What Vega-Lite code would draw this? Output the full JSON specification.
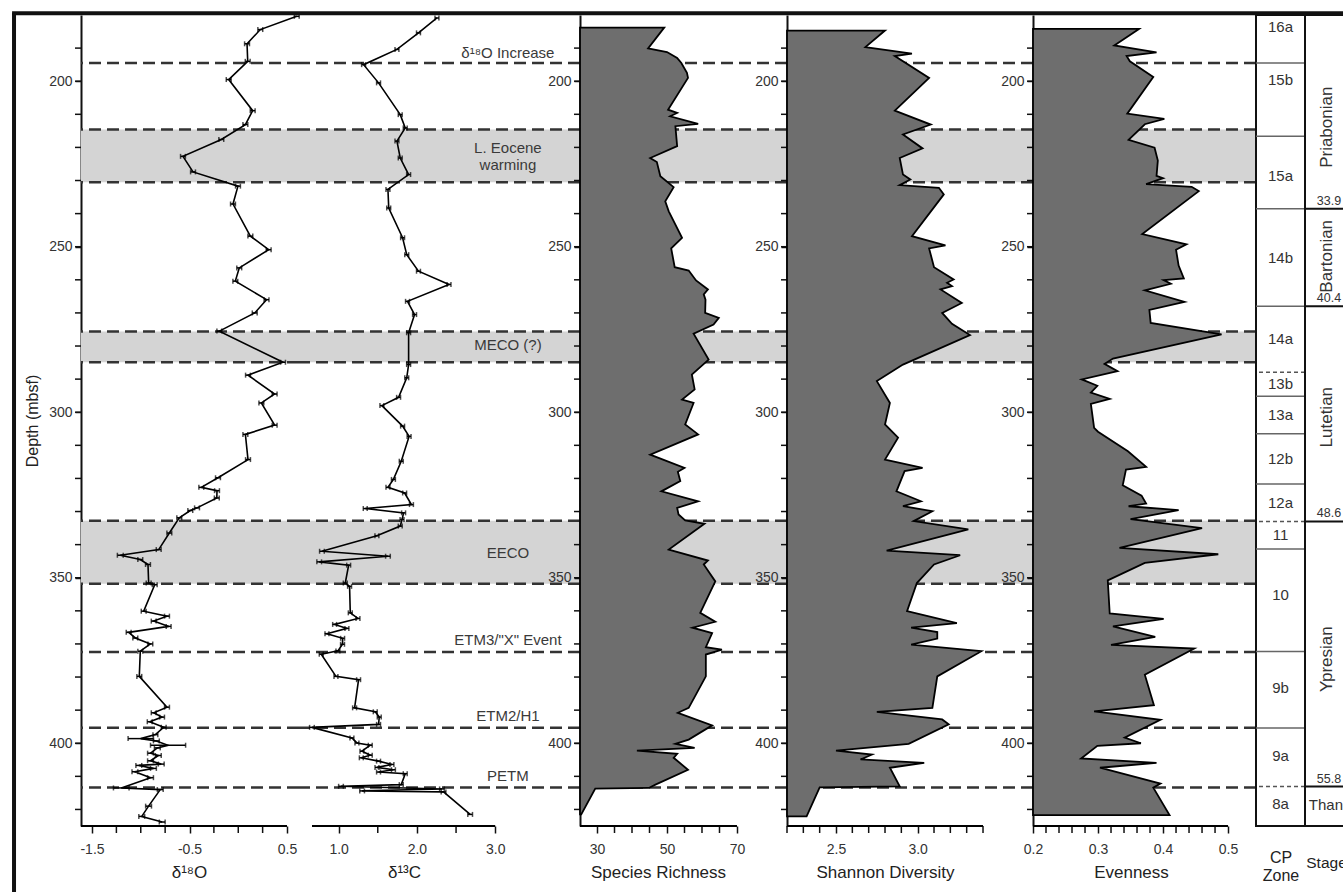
{
  "$schema": "https://vega.github.io/schema/vega-lite/v6.json",
  "background": "white",
  "padding": {"left": 10, "top": 10, "right": 0, "bottom": 0},
  "bounds": "flush",
  "spacing": 0,
  "resolve": {"scale": {"x": "independent", "y": "independent"}},
  "datasets": {
    "bands": [{"depth": 214.6, "end": 230.5}, {"depth": 275.6, "end": 284.9}, {"depth": 332.8, "end": 351.8}],
    "events": [{"depth": 194.5}, {"depth": 214.6}, {"depth": 230.5}, {"depth": 275.6}, {"depth": 284.9}, {"depth": 332.8}, {"depth": 351.8}, {"depth": 372.4}, {"depth": 395.3}, {"depth": 413.4}],
    "depthTicks": [{"depth": 190}, {"depth": 200}, {"depth": 210}, {"depth": 220}, {"depth": 230}, {"depth": 240}, {"depth": 250}, {"depth": 260}, {"depth": 270}, {"depth": 280}, {"depth": 290}, {"depth": 300}, {"depth": 310}, {"depth": 320}, {"depth": 330}, {"depth": 340}, {"depth": 350}, {"depth": 360}, {"depth": 370}, {"depth": 380}, {"depth": 390}, {"depth": 400}, {"depth": 410}, {"depth": 420}],
    "tickD18O": [{"tick": -1.25}, {"tick": -1}, {"tick": -0.75}, {"tick": -0.25}, {"tick": 0}, {"tick": 0.25}],
    "tickD13C": [{"tick": 1.5}, {"tick": 2.5}],
    "tickSpecies": [{"tick": 35}, {"tick": 40}, {"tick": 45}, {"tick": 55}, {"tick": 60}, {"tick": 65}],
    "tickShannon": [{"tick": 2.2}, {"tick": 2.3}, {"tick": 2.4}, {"tick": 2.6}, {"tick": 2.7}, {"tick": 2.8}, {"tick": 2.9}, {"tick": 3.1}, {"tick": 3.2}, {"tick": 3.3}, {"tick": 3.4}],
    "tickEvenness": [{"tick": 0.22}, {"tick": 0.24}, {"tick": 0.26}, {"tick": 0.28}, {"tick": 0.32}, {"tick": 0.34}, {"tick": 0.36}, {"tick": 0.38}, {"tick": 0.42}, {"tick": 0.44}, {"tick": 0.46}, {"tick": 0.48}],
    "eventLabels": [
      {"label": "δ¹⁸O Increase", "depth": 191.6},
      {"label": "L. Eocene\nwarming", "depth": 220.1},
      {"label": "MECO (?)", "depth": 279.8},
      {"label": "EECO", "depth": 342.6},
      {"label": "ETM3/\"X\" Event", "depth": 368.7},
      {"label": "ETM2/H1", "depth": 391.9},
      {"label": "PETM", "depth": 410.0}
    ],
    "d18O": [
      {"depth": 180.4, "value": 0.60, "err": 0.025}, {"depth": 184.4, "value": 0.226, "err": 0.025}, {"depth": 188.7, "value": 0.09, "err": 0.025}, {"depth": 194.0, "value": 0.097, "err": 0.025}, {"depth": 199.5, "value": -0.098, "err": 0.025}, {"depth": 208.9, "value": 0.148, "err": 0.025}, {"depth": 213.1, "value": 0.073, "err": 0.025}, {"depth": 217.6, "value": -0.174, "err": 0.025}, {"depth": 222.7, "value": -0.567, "err": 0.025}, {"depth": 227.4, "value": -0.464, "err": 0.025}, {"depth": 231.7, "value": -0.003, "err": 0.025}, {"depth": 237.1, "value": -0.054, "err": 0.025}, {"depth": 246.8, "value": 0.124, "err": 0.025}, {"depth": 250.9, "value": 0.312, "err": 0.025}, {"depth": 256.4, "value": 0.01, "err": 0.025}, {"depth": 260.4, "value": -0.03, "err": 0.025}, {"depth": 266.0, "value": 0.29, "err": 0.025}, {"depth": 270.0, "value": 0.169, "err": 0.025}, {"depth": 275.5, "value": -0.194, "err": 0.025}, {"depth": 284.9, "value": 0.459, "err": 0.025}, {"depth": 288.8, "value": 0.10, "err": 0.025}, {"depth": 294.5, "value": 0.373, "err": 0.025}, {"depth": 297.2, "value": 0.237, "err": 0.025}, {"depth": 303.9, "value": 0.373, "err": 0.025}, {"depth": 306.7, "value": 0.073, "err": 0.025}, {"depth": 314.3, "value": 0.10, "err": 0.025}, {"depth": 319.8, "value": -0.208, "err": 0.025}, {"depth": 322.7, "value": -0.379, "err": 0.025}, {"depth": 323.7, "value": -0.218, "err": 0.025}, {"depth": 325.9, "value": -0.22, "err": 0.025}, {"depth": 328.9, "value": -0.423, "err": 0.025}, {"depth": 329.7, "value": -0.492, "err": 0.025}, {"depth": 331.9, "value": -0.605, "err": 0.025}, {"depth": 336.5, "value": -0.707, "err": 0.025}, {"depth": 341.5, "value": -0.816, "err": 0.025}, {"depth": 343.2, "value": -1.21, "err": 0.03}, {"depth": 344.5, "value": -1.005, "err": 0.025}, {"depth": 346.0, "value": -0.926, "err": 0.025}, {"depth": 351.6, "value": -0.919, "err": 0.025}, {"depth": 352.1, "value": -0.857, "err": 0.025}, {"depth": 360.1, "value": -0.97, "err": 0.025}, {"depth": 361.6, "value": -0.731, "err": 0.025}, {"depth": 363.1, "value": -0.867, "err": 0.025}, {"depth": 364.7, "value": -0.714, "err": 0.025}, {"depth": 366.5, "value": -1.124, "err": 0.025}, {"depth": 368.2, "value": -1.056, "err": 0.025}, {"depth": 370.0, "value": -0.902, "err": 0.025}, {"depth": 372.2, "value": -1.005, "err": 0.025}, {"depth": 379.8, "value": -1.015, "err": 0.025}, {"depth": 389.1, "value": -0.731, "err": 0.025}, {"depth": 390.8, "value": -0.867, "err": 0.025}, {"depth": 392.1, "value": -0.782, "err": 0.025}, {"depth": 393.5, "value": -0.908, "err": 0.025}, {"depth": 395.2, "value": -0.765, "err": 0.025}, {"depth": 397.4, "value": -0.85, "err": 0.025}, {"depth": 398.6, "value": -1.0, "err": 0.13}, {"depth": 399.3, "value": -0.84, "err": 0.03}, {"depth": 400.6, "value": -0.72, "err": 0.18}, {"depth": 401.4, "value": -0.83, "err": 0.03}, {"depth": 403.0, "value": -0.90, "err": 0.03}, {"depth": 403.7, "value": -0.82, "err": 0.03}, {"depth": 405.3, "value": -0.90, "err": 0.03}, {"depth": 406.3, "value": -0.79, "err": 0.03}, {"depth": 406.7, "value": -1.02, "err": 0.03}, {"depth": 407.6, "value": -0.87, "err": 0.03}, {"depth": 408.6, "value": -1.06, "err": 0.03}, {"depth": 410.4, "value": -0.90, "err": 0.03}, {"depth": 413.5, "value": -1.2, "err": 0.08}, {"depth": 414.0, "value": -0.80, "err": 0.03}, {"depth": 419.0, "value": -0.92, "err": 0.03}, {"depth": 422.1, "value": -0.99, "err": 0.03}, {"depth": 423.8, "value": -0.78, "err": 0.03}
    ],
    "d13C": [
      {"depth": 180.9, "value": 2.256, "err": 0.025}, {"depth": 185.4, "value": 2.02, "err": 0.025}, {"depth": 190.4, "value": 1.745, "err": 0.025}, {"depth": 195.0, "value": 1.319, "err": 0.025}, {"depth": 200.5, "value": 1.51, "err": 0.025}, {"depth": 210.1, "value": 1.787, "err": 0.025}, {"depth": 214.1, "value": 1.851, "err": 0.025}, {"depth": 218.1, "value": 1.745, "err": 0.025}, {"depth": 223.2, "value": 1.787, "err": 0.025}, {"depth": 228.2, "value": 1.894, "err": 0.025}, {"depth": 232.7, "value": 1.63, "err": 0.025}, {"depth": 238.3, "value": 1.64, "err": 0.025}, {"depth": 247.3, "value": 1.817, "err": 0.025}, {"depth": 252.4, "value": 1.87, "err": 0.025}, {"depth": 257.4, "value": 2.02, "err": 0.025}, {"depth": 261.4, "value": 2.41, "err": 0.025}, {"depth": 266.5, "value": 1.88, "err": 0.025}, {"depth": 270.5, "value": 1.97, "err": 0.025}, {"depth": 276.0, "value": 1.894, "err": 0.025}, {"depth": 285.6, "value": 1.894, "err": 0.025}, {"depth": 289.6, "value": 1.87, "err": 0.025}, {"depth": 295.5, "value": 1.766, "err": 0.025}, {"depth": 298.0, "value": 1.553, "err": 0.025}, {"depth": 304.2, "value": 1.817, "err": 0.025}, {"depth": 307.3, "value": 1.90, "err": 0.025}, {"depth": 314.8, "value": 1.80, "err": 0.025}, {"depth": 320.3, "value": 1.70, "err": 0.025}, {"depth": 322.7, "value": 1.63, "err": 0.025}, {"depth": 324.4, "value": 1.843, "err": 0.025}, {"depth": 327.9, "value": 1.93, "err": 0.025}, {"depth": 329.1, "value": 1.34, "err": 0.025}, {"depth": 330.4, "value": 1.83, "err": 0.025}, {"depth": 332.4, "value": 1.81, "err": 0.025}, {"depth": 334.4, "value": 1.787, "err": 0.025}, {"depth": 337.3, "value": 1.489, "err": 0.025}, {"depth": 342.0, "value": 0.787, "err": 0.03}, {"depth": 343.5, "value": 1.63, "err": 0.03}, {"depth": 345.2, "value": 0.752, "err": 0.03}, {"depth": 346.2, "value": 1.128, "err": 0.025}, {"depth": 351.6, "value": 1.085, "err": 0.025}, {"depth": 352.6, "value": 1.14, "err": 0.025}, {"depth": 360.6, "value": 1.149, "err": 0.025}, {"depth": 362.3, "value": 1.247, "err": 0.025}, {"depth": 364.1, "value": 0.949, "err": 0.025}, {"depth": 365.3, "value": 1.106, "err": 0.025}, {"depth": 366.9, "value": 0.851, "err": 0.025}, {"depth": 368.3, "value": 1.051, "err": 0.025}, {"depth": 370.1, "value": 1.05, "err": 0.025}, {"depth": 372.1, "value": 0.991, "err": 0.025}, {"depth": 373.1, "value": 0.778, "err": 0.025}, {"depth": 379.8, "value": 0.966, "err": 0.025}, {"depth": 380.8, "value": 1.255, "err": 0.025}, {"depth": 389.3, "value": 1.204, "err": 0.025}, {"depth": 390.5, "value": 1.468, "err": 0.025}, {"depth": 392.1, "value": 1.519, "err": 0.025}, {"depth": 394.3, "value": 1.51, "err": 0.025}, {"depth": 395.2, "value": 0.659, "err": 0.03}, {"depth": 398.4, "value": 1.17, "err": 0.025}, {"depth": 399.9, "value": 1.234, "err": 0.025}, {"depth": 400.6, "value": 1.404, "err": 0.025}, {"depth": 402.4, "value": 1.298, "err": 0.025}, {"depth": 403.6, "value": 1.404, "err": 0.025}, {"depth": 404.4, "value": 1.29, "err": 0.025}, {"depth": 405.4, "value": 1.51, "err": 0.025}, {"depth": 406.4, "value": 1.681, "err": 0.025}, {"depth": 407.3, "value": 1.49, "err": 0.025}, {"depth": 408.0, "value": 1.70, "err": 0.025}, {"depth": 408.7, "value": 1.51, "err": 0.025}, {"depth": 409.2, "value": 1.851, "err": 0.025}, {"depth": 412.5, "value": 1.80, "err": 0.025}, {"depth": 413.0, "value": 1.03, "err": 0.03}, {"depth": 413.8, "value": 2.32, "err": 0.03}, {"depth": 414.4, "value": 1.30, "err": 0.03}, {"depth": 414.7, "value": 2.34, "err": 0.03}, {"depth": 421.5, "value": 2.68, "err": 0.03}
    ],
    "species": [
      {"depth": 183.8, "value": 49.2}, {"depth": 190.1, "value": 44.6}, {"depth": 191.2, "value": 50.0}, {"depth": 193.0, "value": 52.9}, {"depth": 194.5, "value": 54.1}, {"depth": 197.5, "value": 55.7}, {"depth": 199.0, "value": 56.0}, {"depth": 208.6, "value": 50.3}, {"depth": 209.6, "value": 52.9}, {"depth": 210.6, "value": 50.9}, {"depth": 212.9, "value": 58.9}, {"depth": 213.6, "value": 52.4}, {"depth": 219.6, "value": 52.9}, {"depth": 223.2, "value": 45.2}, {"depth": 224.4, "value": 47.1}, {"depth": 228.7, "value": 48.1}, {"depth": 232.0, "value": 51.9}, {"depth": 236.3, "value": 49.5}, {"depth": 239.3, "value": 50.5}, {"depth": 247.3, "value": 54.3}, {"depth": 250.5, "value": 51.2}, {"depth": 256.2, "value": 52.2}, {"depth": 257.2, "value": 56.2}, {"depth": 260.2, "value": 58.3}, {"depth": 262.9, "value": 61.7}, {"depth": 264.4, "value": 60.5}, {"depth": 266.0, "value": 61.0}, {"depth": 270.0, "value": 60.9}, {"depth": 271.5, "value": 64.8}, {"depth": 273.5, "value": 63.3}, {"depth": 276.3, "value": 57.6}, {"depth": 284.1, "value": 61.9}, {"depth": 288.6, "value": 57.1}, {"depth": 293.1, "value": 57.9}, {"depth": 296.2, "value": 54.3}, {"depth": 297.2, "value": 57.6}, {"depth": 303.7, "value": 55.2}, {"depth": 306.7, "value": 58.9}, {"depth": 312.8, "value": 45.2}, {"depth": 316.8, "value": 55.0}, {"depth": 318.0, "value": 53.1}, {"depth": 320.8, "value": 53.8}, {"depth": 323.9, "value": 48.4}, {"depth": 326.9, "value": 58.9}, {"depth": 328.9, "value": 52.9}, {"depth": 330.9, "value": 53.3}, {"depth": 332.7, "value": 55.2}, {"depth": 333.7, "value": 60.7}, {"depth": 341.5, "value": 50.5}, {"depth": 344.8, "value": 61.7}, {"depth": 346.0, "value": 60.5}, {"depth": 351.1, "value": 63.8}, {"depth": 360.6, "value": 59.5}, {"depth": 363.3, "value": 63.8}, {"depth": 365.1, "value": 57.3}, {"depth": 366.7, "value": 62.9}, {"depth": 371.0, "value": 61.1}, {"depth": 371.7, "value": 65.7}, {"depth": 373.2, "value": 61.1}, {"depth": 379.8, "value": 61.1}, {"depth": 389.3, "value": 56.2}, {"depth": 390.8, "value": 53.1}, {"depth": 394.6, "value": 62.9}, {"depth": 398.9, "value": 56.2}, {"depth": 400.2, "value": 52.4}, {"depth": 401.4, "value": 57.9}, {"depth": 402.2, "value": 41.4}, {"depth": 403.2, "value": 52.9}, {"depth": 404.4, "value": 51.9}, {"depth": 408.0, "value": 56.0}, {"depth": 412.5, "value": 46.7}, {"depth": 413.5, "value": 44.8}, {"depth": 413.7, "value": 29.5}, {"depth": 421.5, "value": 25.5}
    ],
    "shannon": [
      {"depth": 184.7, "value": 2.80}, {"depth": 189.7, "value": 2.68}, {"depth": 191.7, "value": 2.965}, {"depth": 192.4, "value": 2.86}, {"depth": 199.0, "value": 3.07}, {"depth": 208.9, "value": 2.86}, {"depth": 213.1, "value": 3.08}, {"depth": 216.1, "value": 2.91}, {"depth": 220.3, "value": 3.03}, {"depth": 223.2, "value": 2.89}, {"depth": 228.2, "value": 2.91}, {"depth": 229.7, "value": 2.955}, {"depth": 231.4, "value": 2.89}, {"depth": 232.2, "value": 3.13}, {"depth": 234.2, "value": 3.16}, {"depth": 246.8, "value": 2.965}, {"depth": 249.6, "value": 3.17}, {"depth": 250.5, "value": 3.07}, {"depth": 256.2, "value": 3.10}, {"depth": 259.9, "value": 3.22}, {"depth": 260.9, "value": 3.18}, {"depth": 261.9, "value": 3.21}, {"depth": 262.9, "value": 3.14}, {"depth": 267.0, "value": 3.27}, {"depth": 270.0, "value": 3.15}, {"depth": 273.3, "value": 3.21}, {"depth": 276.7, "value": 3.32}, {"depth": 285.6, "value": 2.91}, {"depth": 290.6, "value": 2.75}, {"depth": 297.2, "value": 2.83}, {"depth": 303.7, "value": 2.80}, {"depth": 307.7, "value": 2.88}, {"depth": 314.3, "value": 2.80}, {"depth": 316.8, "value": 3.03}, {"depth": 317.8, "value": 2.92}, {"depth": 323.9, "value": 2.87}, {"depth": 326.9, "value": 3.02}, {"depth": 328.4, "value": 2.91}, {"depth": 329.9, "value": 3.09}, {"depth": 332.9, "value": 2.975}, {"depth": 335.4, "value": 3.31}, {"depth": 341.8, "value": 2.81}, {"depth": 343.2, "value": 3.26}, {"depth": 346.0, "value": 3.10}, {"depth": 351.6, "value": 2.995}, {"depth": 360.1, "value": 2.935}, {"depth": 363.7, "value": 3.24}, {"depth": 365.1, "value": 2.96}, {"depth": 366.4, "value": 3.12}, {"depth": 368.4, "value": 3.12}, {"depth": 370.2, "value": 2.96}, {"depth": 371.7, "value": 3.29}, {"depth": 372.2, "value": 3.39}, {"depth": 379.8, "value": 3.12}, {"depth": 389.3, "value": 3.09}, {"depth": 390.5, "value": 2.75}, {"depth": 392.8, "value": 3.15}, {"depth": 394.3, "value": 3.19}, {"depth": 400.2, "value": 2.945}, {"depth": 402.2, "value": 2.50}, {"depth": 403.4, "value": 2.72}, {"depth": 404.9, "value": 2.65}, {"depth": 405.9, "value": 3.04}, {"depth": 407.4, "value": 2.83}, {"depth": 413.0, "value": 2.89}, {"depth": 413.3, "value": 2.40}, {"depth": 422.1, "value": 2.32}
    ],
    "evenness": [
      {"depth": 184.2, "value": 0.363}, {"depth": 189.2, "value": 0.325}, {"depth": 191.3, "value": 0.390}, {"depth": 192.4, "value": 0.344}, {"depth": 194.0, "value": 0.349}, {"depth": 198.7, "value": 0.385}, {"depth": 209.8, "value": 0.345}, {"depth": 211.4, "value": 0.402}, {"depth": 213.0, "value": 0.372}, {"depth": 217.7, "value": 0.347}, {"depth": 220.1, "value": 0.387}, {"depth": 224.0, "value": 0.392}, {"depth": 228.6, "value": 0.390}, {"depth": 229.3, "value": 0.400}, {"depth": 231.1, "value": 0.374}, {"depth": 231.9, "value": 0.444}, {"depth": 233.2, "value": 0.455}, {"depth": 246.2, "value": 0.368}, {"depth": 249.3, "value": 0.436}, {"depth": 250.9, "value": 0.420}, {"depth": 255.7, "value": 0.424}, {"depth": 259.6, "value": 0.432}, {"depth": 260.1, "value": 0.401}, {"depth": 261.2, "value": 0.412}, {"depth": 263.2, "value": 0.372}, {"depth": 266.7, "value": 0.433}, {"depth": 269.1, "value": 0.379}, {"depth": 273.0, "value": 0.381}, {"depth": 276.5, "value": 0.490}, {"depth": 283.8, "value": 0.323}, {"depth": 285.4, "value": 0.310}, {"depth": 287.6, "value": 0.330}, {"depth": 290.1, "value": 0.275}, {"depth": 292.0, "value": 0.299}, {"depth": 294.1, "value": 0.289}, {"depth": 296.0, "value": 0.318}, {"depth": 297.5, "value": 0.289}, {"depth": 304.7, "value": 0.294}, {"depth": 305.9, "value": 0.300}, {"depth": 311.8, "value": 0.346}, {"depth": 316.5, "value": 0.374}, {"depth": 317.3, "value": 0.343}, {"depth": 322.1, "value": 0.338}, {"depth": 325.2, "value": 0.367}, {"depth": 327.6, "value": 0.374}, {"depth": 328.4, "value": 0.347}, {"depth": 329.6, "value": 0.424}, {"depth": 332.3, "value": 0.350}, {"depth": 335.0, "value": 0.460}, {"depth": 341.0, "value": 0.333}, {"depth": 342.9, "value": 0.485}, {"depth": 345.5, "value": 0.372}, {"depth": 350.8, "value": 0.315}, {"depth": 360.8, "value": 0.318}, {"depth": 362.4, "value": 0.401}, {"depth": 364.7, "value": 0.323}, {"depth": 367.9, "value": 0.388}, {"depth": 370.3, "value": 0.320}, {"depth": 371.4, "value": 0.448}, {"depth": 379.3, "value": 0.372}, {"depth": 388.5, "value": 0.386}, {"depth": 390.4, "value": 0.294}, {"depth": 392.9, "value": 0.396}, {"depth": 398.3, "value": 0.341}, {"depth": 400.0, "value": 0.366}, {"depth": 400.8, "value": 0.299}, {"depth": 404.6, "value": 0.274}, {"depth": 405.9, "value": 0.390}, {"depth": 407.4, "value": 0.303}, {"depth": 412.2, "value": 0.396}, {"depth": 413.4, "value": 0.385}, {"depth": 421.7, "value": 0.410}
    ],
    "zoneLines": [{"depth": 194.5}, {"depth": 216.6}, {"depth": 238.5}, {"depth": 268.0}, {"depth": 295.2}, {"depth": 306.5}, {"depth": 321.7}, {"depth": 341.3}, {"depth": 372.3}, {"depth": 395.4}],
    "zoneDashed": [{"depth": 287.9}, {"depth": 333.0}, {"depth": 413.1}],
    "zoneLabels": [
      {"zone": "16a", "depth": 183.6}, {"zone": "15b", "depth": 199.5}, {"zone": "15a", "depth": 228.7}, {"zone": "14b", "depth": 253.4}, {"zone": "14a", "depth": 278.0}, {"zone": "13b", "depth": 291.6}, {"zone": "13a", "depth": 300.8}, {"zone": "12b", "depth": 314.0}, {"zone": "12a", "depth": 327.4}, {"zone": "11", "depth": 337.0}, {"zone": "10", "depth": 355.1}, {"zone": "9b", "depth": 383.3}, {"zone": "9a", "depth": 403.9}, {"zone": "8a", "depth": 418.5}
    ],
    "stageLines": [{"age": "33.9", "depth": 238.5}, {"age": "40.4", "depth": 268.0}, {"age": "48.6", "depth": 333.0}, {"age": "55.8", "depth": 413.1}],
    "stageNames": [{"name": "Priabonian", "depth": 213.9}, {"name": "Bartonian", "depth": 252.9}, {"name": "Lutetian", "depth": 301.5}, {"name": "Ypresian", "depth": 374.6}]
  },
  "hconcat": [
    {
      "width": 218, "height": 811,
      "layer": [
        {"data": {"name": "bands"}, "mark": {"type": "rect", "color": "#d4d4d4"},
         "encoding": {"y": {"field": "depth", "type": "quantitative", "title": "Depth (mbsf)", "scale": {"domain": [180, 425], "reverse": true, "nice": false, "zero": false},
           "axis": {"title": "Depth (mbsf)", "titleFontSize": 16, "values": [200, 250, 300, 350, 400], "labelExpr": "'' + datum.value", "labelOverlap": false, "tickSize": 6, "labelPadding": 3, "titlePadding": 8}},
           "y2": {"field": "end"}}},
        {"data": {"name": "events"}, "mark": {"type": "rule", "color": "#333333", "strokeWidth": 2.5, "strokeDash": [12, 6]},
         "encoding": {"y": {"field": "depth", "type": "quantitative", "title": "Depth (mbsf)", "scale": {"domain": [180, 425], "reverse": true, "nice": false, "zero": false}}}},
        {"data": {"name": "depthTicks"}, "mark": {"type": "rule", "color": "#111111", "strokeWidth": 1.5},
         "encoding": {"y": {"field": "depth", "type": "quantitative", "title": "Depth (mbsf)", "scale": {"domain": [180, 425], "reverse": true, "nice": false, "zero": false}},
           "x": {"datum": -1.6745, "title": "δ¹⁸O", "scale": {"domain": [-1.613, 0.623], "nice": false, "zero": false}}, "x2": {"datum": -1.613}}},
        {"data": {"name": "tickD18O"}, "mark": {"type": "rule", "color": "#111111", "strokeWidth": 1.5},
         "encoding": {"x": {"field": "tick", "type": "quantitative", "title": "δ¹⁸O", "scale": {"domain": [-1.613, 0.623], "nice": false, "zero": false}},
           "y": {"datum": 425, "title": "Depth (mbsf)", "scale": {"domain": [180, 425], "reverse": true, "nice": false, "zero": false}}, "y2": {"datum": 427.115}}},
        {"data": {"name": "d18O"}, "mark": {"type": "line", "color": "black", "strokeWidth": 1.6},
         "encoding": {
           "x": {"field": "value", "type": "quantitative", "title": "δ¹⁸O", "scale": {"domain": [-1.613, 0.623], "nice": false, "zero": false},
             "axis": {"title": "δ¹⁸O", "values": [-1.5, -0.5, 0.5], "labelExpr": "'' + datum.value", "labelOverlap": false, "domain": false, "tickSize": 7, "labelPadding": 9, "titlePadding": 8, "titleX": 108}},
           "y": {"field": "depth", "type": "quantitative", "title": "Depth (mbsf)", "scale": {"domain": [180, 425], "reverse": true, "nice": false, "zero": false}},
           "order": {"field": "depth", "type": "quantitative"}}},
        {"data": {"name": "d18O"}, "mark": {"type": "errorbar", "ticks": {"size": 5, "thickness": 1.5}, "thickness": 1.5, "color": "black"},
         "encoding": {
           "x": {"field": "value", "type": "quantitative", "title": "δ¹⁸O", "scale": {"domain": [-1.613, 0.623], "nice": false, "zero": false}},
           "xError": {"field": "err"},
           "y": {"field": "depth", "type": "quantitative", "title": "Depth (mbsf)", "scale": {"domain": [180, 425], "reverse": true, "nice": false, "zero": false}}}},
        {"data": {"values": [{}]}, "mark": {"type": "rule", "color": "black", "strokeWidth": 2},
         "encoding": {"x": {"datum": -1.613, "scale": {"domain": [-1.613, 0.623], "nice": false, "zero": false}}, "x2": {"datum": 0.5},
           "y": {"datum": 425, "scale": {"domain": [180, 425], "reverse": true, "nice": false, "zero": false}}}},
        {"data": {"values": [{}]}, "mark": {"type": "rule", "color": "#111111", "strokeWidth": 4},
         "encoding": {"x": {"datum": -2.32, "scale": {"domain": [-1.613, 0.623], "nice": false, "zero": false}}, "x2": {"datum": 0.623},
           "y": {"datum": 179.46, "scale": {"domain": [180, 425], "reverse": true, "nice": false, "zero": false}}}},
        {"data": {"values": [{}]}, "mark": {"type": "rule", "color": "#111111", "strokeWidth": 4},
         "encoding": {"x": {"datum": -2.30, "scale": {"domain": [-1.613, 0.623], "nice": false, "zero": false}},
           "y": {"datum": 179.4, "scale": {"domain": [180, 425], "reverse": true, "nice": false, "zero": false}}, "y2": {"datum": 445.5}}}
      ]
    },
    {
      "width": 281, "height": 811,
      "layer": [
        {"data": {"name": "bands"}, "mark": {"type": "rect", "color": "#d4d4d4"},
         "encoding": {"y": {"field": "depth", "type": "quantitative", "scale": {"domain": [180, 425], "reverse": true, "nice": false, "zero": false}, "axis": null}, "y2": {"field": "end"}}},
        {"data": {"name": "events"}, "mark": {"type": "rule", "color": "#333333", "strokeWidth": 2.5, "strokeDash": [12, 6]},
         "encoding": {"y": {"field": "depth", "type": "quantitative", "scale": {"domain": [180, 425], "reverse": true, "nice": false, "zero": false}, "axis": null}}},
        {"data": {"name": "eventLabels"}, "mark": {"type": "text", "fontSize": 15, "color": "#3a3a3a", "align": "center", "baseline": "middle", "lineBreak": "\n", "lineHeight": 17},
         "encoding": {"x": {"datum": 3.162, "title": "δ¹³C", "scale": {"domain": [0.494, 4.083], "nice": false, "zero": false}},
           "y": {"field": "depth", "type": "quantitative", "scale": {"domain": [180, 425], "reverse": true, "nice": false, "zero": false}, "axis": null},
           "text": {"field": "label"}}},
        {"data": {"name": "tickD13C"}, "mark": {"type": "rule", "color": "#111111", "strokeWidth": 1.5},
         "encoding": {"x": {"field": "tick", "type": "quantitative", "title": "δ¹³C", "scale": {"domain": [0.494, 4.083], "nice": false, "zero": false}},
           "y": {"datum": 425, "scale": {"domain": [180, 425], "reverse": true, "nice": false, "zero": false}, "axis": null}, "y2": {"datum": 427.115}}},
        {"data": {"name": "d13C"}, "mark": {"type": "line", "color": "black", "strokeWidth": 1.6},
         "encoding": {
           "x": {"field": "value", "type": "quantitative", "title": "δ¹³C", "scale": {"domain": [0.494, 4.083], "nice": false, "zero": false},
             "axis": {"title": "δ¹³C", "values": [1, 2, 3], "format": ".1f", "labelOverlap": false, "domain": false, "tickSize": 7, "labelPadding": 9, "titlePadding": 8, "titleX": 105}},
           "y": {"field": "depth", "type": "quantitative", "scale": {"domain": [180, 425], "reverse": true, "nice": false, "zero": false}, "axis": null},
           "order": {"field": "depth", "type": "quantitative"}}},
        {"data": {"name": "d13C"}, "mark": {"type": "errorbar", "ticks": {"size": 5, "thickness": 1.5}, "thickness": 1.5, "color": "black"},
         "encoding": {
           "x": {"field": "value", "type": "quantitative", "title": "δ¹³C", "scale": {"domain": [0.494, 4.083], "nice": false, "zero": false}},
           "xError": {"field": "err"},
           "y": {"field": "depth", "type": "quantitative", "scale": {"domain": [180, 425], "reverse": true, "nice": false, "zero": false}, "axis": null}}},
        {"data": {"values": [{}]}, "mark": {"type": "rule", "color": "black", "strokeWidth": 2},
         "encoding": {"x": {"datum": 0.66, "title": "δ¹³C", "scale": {"domain": [0.494, 4.083], "nice": false, "zero": false}}, "x2": {"datum": 3.0},
           "y": {"datum": 425, "scale": {"domain": [180, 425], "reverse": true, "nice": false, "zero": false}, "axis": null}}},
        {"data": {"values": [{}]}, "mark": {"type": "rule", "color": "#111111", "strokeWidth": 4},
         "encoding": {"y": {"datum": 179.46, "scale": {"domain": [180, 425], "reverse": true, "nice": false, "zero": false}, "axis": null}}}
      ]
    },
    {
      "width": 207, "height": 811,
      "layer": [
        {"data": {"name": "bands"}, "mark": {"type": "rect", "color": "#d4d4d4"},
         "encoding": {"y": {"field": "depth", "type": "quantitative", "scale": {"domain": [180, 425], "reverse": true, "nice": false, "zero": false},
           "axis": {"title": null, "values": [200, 250, 300, 350, 400], "labelExpr": "'' + datum.value", "labelOverlap": false, "tickSize": 6, "labelPadding": 3}},
           "y2": {"field": "end"}}},
        {"data": {"name": "events"}, "mark": {"type": "rule", "color": "#333333", "strokeWidth": 2.5, "strokeDash": [12, 6]},
         "encoding": {"y": {"field": "depth", "type": "quantitative", "scale": {"domain": [180, 425], "reverse": true, "nice": false, "zero": false}}}},
        {"data": {"name": "depthTicks"}, "mark": {"type": "rule", "color": "#111111", "strokeWidth": 1.5},
         "encoding": {"y": {"field": "depth", "type": "quantitative", "scale": {"domain": [180, 425], "reverse": true, "nice": false, "zero": false}},
           "x": {"datum": 23.43, "title": "Species Richness", "scale": {"domain": [25.14, 84.29], "nice": false, "zero": false}}, "x2": {"datum": 25.14}}},
        {"data": {"name": "tickSpecies"}, "mark": {"type": "rule", "color": "#111111", "strokeWidth": 1.5},
         "encoding": {"x": {"field": "tick", "type": "quantitative", "title": "Species Richness", "scale": {"domain": [25.14, 84.29], "nice": false, "zero": false}},
           "y": {"datum": 425, "scale": {"domain": [180, 425], "reverse": true, "nice": false, "zero": false}}, "y2": {"datum": 427.115}}},
        {"data": {"name": "species"}, "mark": {"type": "area", "orient": "horizontal", "fill": "#6e6e6e", "stroke": "black", "strokeWidth": 1.8},
         "encoding": {
           "x": {"field": "value", "type": "quantitative", "title": "Species Richness", "scale": {"domain": [25.14, 84.29], "nice": false, "zero": false},
             "axis": {"title": "Species Richness", "values": [30, 50, 70], "labelOverlap": false, "domain": false, "tickSize": 7, "labelPadding": 9, "titlePadding": 8, "titleX": 78}},
           "x2": {"datum": 25.14},
           "y": {"field": "depth", "type": "quantitative", "scale": {"domain": [180, 425], "reverse": true, "nice": false, "zero": false}}}},
        {"data": {"values": [{}]}, "mark": {"type": "rule", "color": "black", "strokeWidth": 2},
         "encoding": {"x": {"datum": 25.14, "scale": {"domain": [25.14, 84.29], "nice": false, "zero": false}}, "x2": {"datum": 70},
           "y": {"datum": 425, "scale": {"domain": [180, 425], "reverse": true, "nice": false, "zero": false}}}},
        {"data": {"values": [{}]}, "mark": {"type": "rule", "color": "#111111", "strokeWidth": 4},
         "encoding": {"y": {"datum": 179.46, "scale": {"domain": [180, 425], "reverse": true, "nice": false, "zero": false}}}}
      ]
    },
    {
      "width": 246, "height": 811,
      "layer": [
        {"data": {"name": "bands"}, "mark": {"type": "rect", "color": "#d4d4d4"},
         "encoding": {"y": {"field": "depth", "type": "quantitative", "scale": {"domain": [180, 425], "reverse": true, "nice": false, "zero": false},
           "axis": {"title": null, "values": [200, 250, 300, 350, 400], "labelExpr": "'' + datum.value", "labelOverlap": false, "tickSize": 6, "labelPadding": 3}},
           "y2": {"field": "end"}}},
        {"data": {"name": "events"}, "mark": {"type": "rule", "color": "#333333", "strokeWidth": 2.5, "strokeDash": [12, 6]},
         "encoding": {"y": {"field": "depth", "type": "quantitative", "scale": {"domain": [180, 425], "reverse": true, "nice": false, "zero": false}}}},
        {"data": {"name": "depthTicks"}, "mark": {"type": "rule", "color": "#111111", "strokeWidth": 1.5},
         "encoding": {"y": {"field": "depth", "type": "quantitative", "scale": {"domain": [180, 425], "reverse": true, "nice": false, "zero": false}},
           "x": {"datum": 2.1633, "title": "Shannon Diversity", "scale": {"domain": [2.2, 3.706], "nice": false, "zero": false}}, "x2": {"datum": 2.2}}},
        {"data": {"name": "tickShannon"}, "mark": {"type": "rule", "color": "#111111", "strokeWidth": 1.5},
         "encoding": {"x": {"field": "tick", "type": "quantitative", "title": "Shannon Diversity", "scale": {"domain": [2.2, 3.706], "nice": false, "zero": false}},
           "y": {"datum": 425, "scale": {"domain": [180, 425], "reverse": true, "nice": false, "zero": false}}, "y2": {"datum": 427.115}}},
        {"data": {"name": "shannon"}, "mark": {"type": "area", "orient": "horizontal", "fill": "#6e6e6e", "stroke": "black", "strokeWidth": 1.8},
         "encoding": {
           "x": {"field": "value", "type": "quantitative", "title": "Shannon Diversity", "scale": {"domain": [2.2, 3.706], "nice": false, "zero": false},
             "axis": {"title": "Shannon Diversity", "values": [2.5, 3.0], "format": ".1f", "labelOverlap": false, "domain": false, "tickSize": 7, "labelPadding": 9, "titlePadding": 8, "titleX": 98}},
           "x2": {"datum": 2.2},
           "y": {"field": "depth", "type": "quantitative", "scale": {"domain": [180, 425], "reverse": true, "nice": false, "zero": false}}}},
        {"data": {"values": [{}]}, "mark": {"type": "rule", "color": "black", "strokeWidth": 2},
         "encoding": {"x": {"datum": 2.2, "scale": {"domain": [2.2, 3.706], "nice": false, "zero": false}}, "x2": {"datum": 3.4},
           "y": {"datum": 425, "scale": {"domain": [180, 425], "reverse": true, "nice": false, "zero": false}}}},
        {"data": {"values": [{}]}, "mark": {"type": "rule", "color": "#111111", "strokeWidth": 4},
         "encoding": {"y": {"datum": 179.46, "scale": {"domain": [180, 425], "reverse": true, "nice": false, "zero": false}}}}
      ]
    },
    {
      "width": 223, "height": 811,
      "layer": [
        {"data": {"name": "bands"}, "mark": {"type": "rect", "color": "#d4d4d4"},
         "encoding": {"y": {"field": "depth", "type": "quantitative", "scale": {"domain": [180, 425], "reverse": true, "nice": false, "zero": false},
           "axis": {"title": null, "values": [200, 250, 300, 350, 400], "labelExpr": "'' + datum.value", "labelOverlap": false, "tickSize": 6, "labelPadding": 3}},
           "y2": {"field": "end"}}},
        {"data": {"name": "events"}, "mark": {"type": "rule", "color": "#333333", "strokeWidth": 2.5, "strokeDash": [12, 6]},
         "encoding": {"y": {"field": "depth", "type": "quantitative", "scale": {"domain": [180, 425], "reverse": true, "nice": false, "zero": false}}}},
        {"data": {"name": "depthTicks"}, "mark": {"type": "rule", "color": "#111111", "strokeWidth": 1.5},
         "encoding": {"y": {"field": "depth", "type": "quantitative", "scale": {"domain": [180, 425], "reverse": true, "nice": false, "zero": false}},
           "x": {"datum": 0.19077, "title": "Evenness", "scale": {"domain": [0.2, 0.543], "nice": false, "zero": false}}, "x2": {"datum": 0.2}}},
        {"data": {"name": "tickEvenness"}, "mark": {"type": "rule", "color": "#111111", "strokeWidth": 1.5},
         "encoding": {"x": {"field": "tick", "type": "quantitative", "title": "Evenness", "scale": {"domain": [0.2, 0.543], "nice": false, "zero": false}},
           "y": {"datum": 425, "scale": {"domain": [180, 425], "reverse": true, "nice": false, "zero": false}}, "y2": {"datum": 427.115}}},
        {"data": {"name": "evenness"}, "mark": {"type": "area", "orient": "horizontal", "fill": "#6e6e6e", "stroke": "black", "strokeWidth": 1.8},
         "encoding": {
           "x": {"field": "value", "type": "quantitative", "title": "Evenness", "scale": {"domain": [0.2, 0.543], "nice": false, "zero": false},
             "axis": {"title": "Evenness", "values": [0.2, 0.3, 0.4, 0.5], "format": ".1f", "labelOverlap": false, "domain": false, "tickSize": 7, "labelPadding": 9, "titlePadding": 8, "titleX": 98}},
           "x2": {"datum": 0.2},
           "y": {"field": "depth", "type": "quantitative", "scale": {"domain": [180, 425], "reverse": true, "nice": false, "zero": false}}}},
        {"data": {"values": [{}]}, "mark": {"type": "rule", "color": "black", "strokeWidth": 2},
         "encoding": {"x": {"datum": 0.2, "scale": {"domain": [0.2, 0.543], "nice": false, "zero": false}}, "x2": {"datum": 0.5},
           "y": {"datum": 425, "scale": {"domain": [180, 425], "reverse": true, "nice": false, "zero": false}}}},
        {"data": {"values": [{}]}, "mark": {"type": "rule", "color": "#111111", "strokeWidth": 4},
         "encoding": {"y": {"datum": 179.46, "scale": {"domain": [180, 425], "reverse": true, "nice": false, "zero": false}}}}
      ]
    },
    {
      "width": 49, "height": 811,
      "view": {"stroke": "#111111", "strokeWidth": 2},
      "layer": [
        {"data": {"name": "zoneLines"}, "mark": {"type": "rule", "color": "#666666", "strokeWidth": 1.5},
         "encoding": {"y": {"field": "depth", "type": "quantitative", "scale": {"domain": [180, 425], "reverse": true, "nice": false, "zero": false}, "axis": null}}},
        {"data": {"name": "zoneDashed"}, "mark": {"type": "rule", "color": "#555555", "strokeWidth": 1.5, "strokeDash": [4, 3]},
         "encoding": {"y": {"field": "depth", "type": "quantitative", "scale": {"domain": [180, 425], "reverse": true, "nice": false, "zero": false}, "axis": null}}},
        {"data": {"name": "zoneLabels"}, "mark": {"type": "text", "fontSize": 15, "color": "#333333", "align": "center", "baseline": "middle"},
         "encoding": {"x": {"datum": 0.5, "scale": {"domain": [0, 1], "nice": false, "zero": false},
             "axis": {"title": ["CP", "Zone"], "ticks": false, "labels": false, "domain": false, "titlePadding": 23, "titleFontSize": 16, "titleLineHeight": 18}},
           "y": {"field": "depth", "type": "quantitative", "scale": {"domain": [180, 425], "reverse": true, "nice": false, "zero": false}, "axis": null},
           "text": {"field": "zone"}}},
        {"data": {"values": [{}]}, "mark": {"type": "rule", "color": "#111111", "strokeWidth": 4},
         "encoding": {"y": {"datum": 179.46, "scale": {"domain": [180, 425], "reverse": true, "nice": false, "zero": false}, "axis": null}}}
      ]
    },
    {
      "width": 48, "height": 811,
      "view": {"stroke": "#111111", "strokeWidth": 2},
      "layer": [
        {"data": {"name": "stageLines"}, "mark": {"type": "rule", "color": "#111111", "strokeWidth": 2},
         "encoding": {"y": {"field": "depth", "type": "quantitative", "scale": {"domain": [180, 425], "reverse": true, "nice": false, "zero": false}, "axis": null}}},
        {"data": {"name": "stageLines"}, "mark": {"type": "text", "fontSize": 12.5, "color": "#333333", "align": "center", "baseline": "bottom", "dy": -1},
         "encoding": {"x": {"datum": 0.5, "title": "Stage", "scale": {"domain": [0, 1], "nice": false, "zero": false},
             "axis": {"title": "Stage", "ticks": false, "labels": false, "domain": false, "titlePadding": 29, "titleFontSize": 15.5, "titleX": 21}},
           "y": {"field": "depth", "type": "quantitative", "scale": {"domain": [180, 425], "reverse": true, "nice": false, "zero": false}, "axis": null},
           "text": {"field": "age"}}},
        {"data": {"name": "stageNames"}, "mark": {"type": "text", "fontSize": 17, "color": "#333333", "align": "center", "baseline": "middle", "angle": 270},
         "encoding": {"x": {"datum": 0.458, "title": "Stage", "scale": {"domain": [0, 1], "nice": false, "zero": false}},
           "y": {"field": "depth", "type": "quantitative", "scale": {"domain": [180, 425], "reverse": true, "nice": false, "zero": false}, "axis": null},
           "text": {"field": "name"}}},
        {"data": {"values": [{"name": "Thanetian", "depth": 418.7}]}, "mark": {"type": "text", "fontSize": 15, "color": "#333333", "align": "left", "baseline": "middle"},
         "encoding": {"x": {"datum": 0.08, "title": "Stage", "scale": {"domain": [0, 1], "nice": false, "zero": false}},
           "y": {"field": "depth", "type": "quantitative", "scale": {"domain": [180, 425], "reverse": true, "nice": false, "zero": false}, "axis": null},
           "text": {"field": "name"}}},
        {"data": {"values": [{}]}, "mark": {"type": "rule", "color": "#111111", "strokeWidth": 4},
         "encoding": {"y": {"datum": 179.46, "scale": {"domain": [180, 425], "reverse": true, "nice": false, "zero": false}, "axis": null}}}
      ]
    }
  ],
  "config": {
    "font": "Liberation Sans",
    "view": {"stroke": null},
    "axis": {"labelFont": "Liberation Sans", "labelFontSize": 14, "labelColor": "#333333", "titleFont": "Liberation Sans", "titleFontSize": 17, "titleFontWeight": "normal", "titleColor": "#222222", "tickColor": "#111111", "tickWidth": 1.5, "domainColor": "#111111", "domainWidth": 2, "grid": false, "labelFlush": false, "labelOverlap": false, "zindex": 1},
    "text": {"font": "Liberation Sans"}
  }
}
